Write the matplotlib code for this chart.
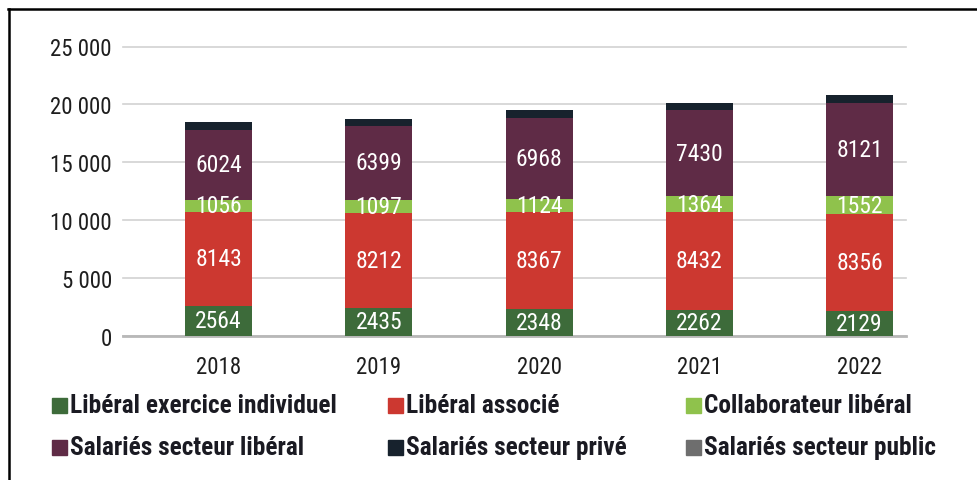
import matplotlib
matplotlib.use("Agg")
import matplotlib.pyplot as plt
from matplotlib import font_manager as fm
from matplotlib.patches import Rectangle
from matplotlib.lines import Line2D
import numpy as np

_available = {f.name for f in fm.fontManager.ttflist}
_pref = ['Roboto Condensed', 'Archivo Narrow', 'Liberation Sans Narrow', 'Barlow Semi Condensed', 'DejaVu Sans']
FONT = next(f for f in _pref if f in _available)
plt.rcParams['font.family'] = [FONT, 'DejaVu Sans']

years = ["2018", "2019", "2020", "2021", "2022"]
liberal_individuel = [2564, 2435, 2348, 2262, 2129]
liberal_associe = [8143, 8212, 8367, 8432, 8356]
collaborateur = [1056, 1097, 1124, 1364, 1552]
salaries_liberal = [6024, 6399, 6968, 7430, 8121]
salaries_prive = [650, 590, 670, 610, 640]
salaries_public = [20, 20, 20, 20, 20]

series_names = ["Libéral exercice individuel", "Libéral associé", "Collaborateur libéral",
                "Salariés secteur libéral", "Salariés secteur privé", "Salariés secteur public"]
series = [liberal_individuel, liberal_associe, collaborateur,
          salaries_liberal, salaries_prive, salaries_public]
colors = ["#3d6b3a", "#cc3830", "#8fc24c", "#5f2b46", "#17222d", "#6e6e6e"]
labelled = [True, True, True, True, False, False]

yticks = [0, 5000, 10000, 15000, 20000, 25000]
ytick_labels = ["0", "5 000", "10 000", "15 000", "20 000", "25 000"]

fig = plt.figure(figsize=(9.78, 4.81), dpi=100)
ax = fig.add_axes([123/978, 1-336.7/481, (906-123)/978, (336.7-47.5)/481])

x = np.arange(len(years))
bottom = np.zeros(len(years))
for vals, col, lab in zip(series, colors, labelled):
    v = np.array(vals, dtype=float)
    ax.bar(x, v, bottom=bottom, width=0.418, color=col, zorder=3)
    if lab:
        for xi, b, h in zip(x, bottom, v):
            ax.text(xi, b + h/2, f"{int(h)}", ha='center', va='center',
                    color='white', fontsize=17, zorder=4)
    bottom += v

ax.set_xlim(-0.596, 4.289)
ax.set_ylim(0, 25000)
ax.set_yticks(yticks)
ax.set_yticklabels(ytick_labels)
ax.set_xticks(x)
ax.set_xticklabels(years)
ax.tick_params(axis='both', length=0, labelsize=16.5, colors='#1e1e1e')
ax.tick_params(axis='y', pad=8)
ax.tick_params(axis='x', pad=14)
for s in ax.spines.values():
    s.set_visible(False)
ax.yaxis.grid(True, color='#d2d2d2', linewidth=1.2, zorder=0)
for gl in ax.get_ygridlines():
    gl.set_clip_on(False)
ax.axhline(0, color='#b8b8b8', linewidth=2, zorder=2, clip_on=False)

# legend
col_x = [52, 388, 686]
row_y = [406, 448]
for i, (name, col) in enumerate(zip(series_names, colors)):
    r, c = divmod(i, 3)
    px = col_x[c]
    py = row_y[r]
    fig.patches.append(Rectangle((px/978, 1-(py+8)/481), 15/978, 15/481,
                                 transform=fig.transFigure, color=col))
    fig.text((px+18)/978, 1-py/481, name, ha='left', va='center',
             fontsize=18.3, fontweight='bold', color='#1a1a22')

# frame (cropped screenshot border)
fig.add_artist(Line2D([8.5/978, 8.5/978], [0, 1-10/481], transform=fig.transFigure,
                      color='black', linewidth=1.8))
fig.add_artist(Line2D([8/978, 1], [1-10/481, 1-10/481], transform=fig.transFigure,
                      color='black', linewidth=1.8))

fig.savefig("out.png", dpi=100)
